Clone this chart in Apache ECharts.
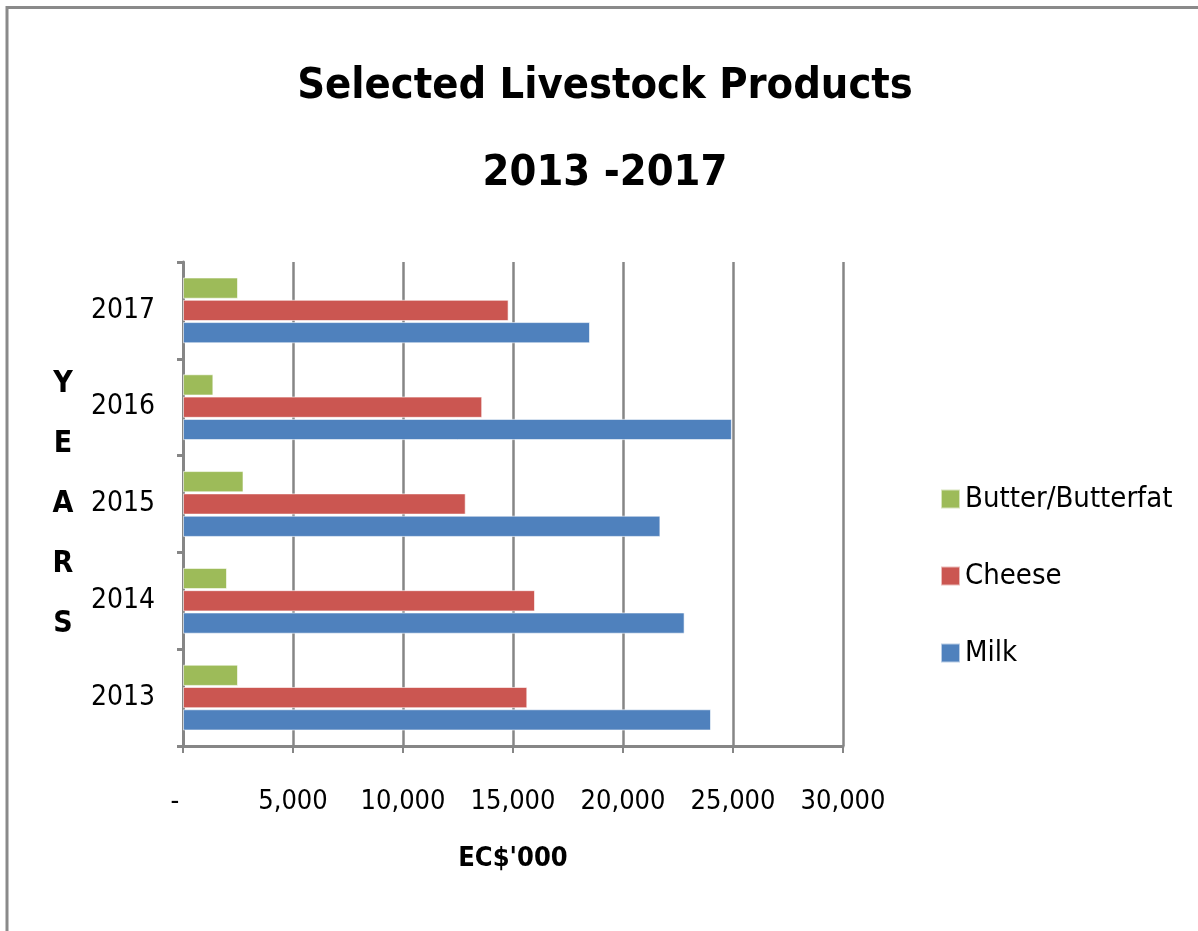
<!DOCTYPE html>
<html>
<head>
<meta charset="utf-8">
<script src="https://cdn.jsdelivr.net/npm/echarts@6/dist/echarts.min.js"></script>
<style>
html,body{margin:0;padding:0;background:#fff;}
#chart{width:1198px;height:931px;}
</style>
</head>
<body>
<div id="chart"></div>
<script>
const years = ['2013', '2014', '2015', '2016', '2017'];
const seriesNames = ['Butter/Butterfat', 'Cheese', 'Milk'];
const butter = [2500, 2000, 2750, 1380, 2500];
const cheese = [15650, 16000, 12850, 13600, 14800];
const milk = [24000, 22800, 21700, 24950, 18500];
const xTickLabels = ['-', '5,000', '10,000', '15,000', '20,000', '25,000', '30,000'];
const colors = ['#9DBB59', '#CB5651', '#4F81BD'];

const FONT = "'DejaVu Sans Condensed', 'Liberation Sans Narrow', 'Open Sans', sans-serif";
const chart = echarts.init(document.getElementById('chart'));
const seriesData = [butter, cheese, milk];

chart.setOption({
  backgroundColor: '#ffffff',
  animation: false,
  graphic: [{
    type: 'rect',
    shape: { x: 7, y: 7.5, width: 1300, height: 1000 },
    style: { fill: 'none', stroke: '#8a8a8a', lineWidth: 3 },
    silent: true
  }],
  title: {
    text: 'Selected Livestock Products\n2013 -2017',
    left: 600,
    top: 38,
    textAlign: 'center',
    textStyle: { fontFamily: FONT, fontWeight: 'bold', fontSize: 43, lineHeight: 87, color: '#000' }
  },
  legend: {
    orient: 'vertical',
    left: 940,
    top: 479,
    padding: 0,
    itemWidth: 19,
    itemHeight: 19,
    itemGap: 37,
    icon: 'rect',
    data: seriesNames,
    textStyle: { fontFamily: FONT, fontSize: 29, lineHeight: 40, color: '#000' }
  },
  grid: { left: 183, right: 355, top: 262, bottom: 185, containLabel: false },
  xAxis: {
    type: 'value',
    min: 0,
    max: 30000,
    interval: 5000,
    name: "EC$'000",
    nameLocation: 'middle',
    nameGap: 99,
    nameTextStyle: { fontFamily: FONT, fontWeight: 'bold', fontSize: 27, color: '#000' },
    axisLine: { show: true, lineStyle: { color: '#868686', width: 3 } },
    axisTick: { show: true, length: 7, lineStyle: { color: '#868686', width: 2 } },
    axisLabel: {
      margin: 42,
      fontFamily: FONT, fontSize: 27, color: '#000',
      formatter: function (v, i) { return i === 0 ? '{d|' + xTickLabels[i] + '}' : xTickLabels[i]; },
      rich: { d: { fontFamily: FONT, fontSize: 27, color: '#000', padding: [0, 16, 0, 0] } }
    },
    splitLine: { show: true, lineStyle: { color: '#868686', width: 2.5 } }
  },
  yAxis: {
    type: 'category',
    data: years,
    name: 'Y\nE\nA\nR\nS',
    nameLocation: 'middle',
    nameRotate: 0,
    nameGap: 120,
    nameTextStyle: { fontFamily: FONT, fontWeight: 'bold', fontSize: 30, lineHeight: 60, color: '#000', align: 'center' },
    axisLine: { show: true, lineStyle: { color: '#868686', width: 3 } },
    axisTick: { show: true, length: 6, lineStyle: { color: '#868686', width: 3 } },
    axisLabel: { margin: 28, fontFamily: FONT, fontSize: 28, color: '#000' },
    splitLine: { show: false }
  },
  series: seriesNames.map(function (n, i) {
    return {
      name: n,
      type: 'bar',
      data: seriesData[i],
      barGap: '5%',
      barCategoryGap: '32%',
      itemStyle: { color: colors[i], borderColor: 'rgba(255,255,255,0.6)', borderWidth: 1 }
    };
  })
});
</script>
</body>
</html>
